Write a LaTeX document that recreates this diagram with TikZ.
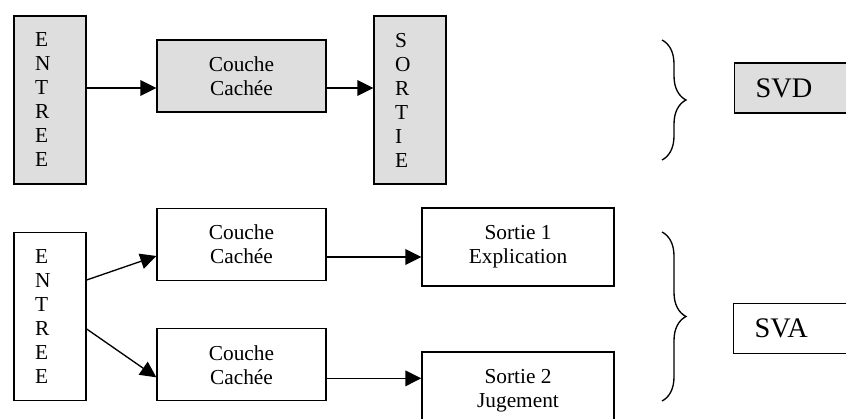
\documentclass[tikz,border=0pt]{standalone}
\usepackage{fontspec}
\setmainfont{Liberation Serif}
\usetikzlibrary{positioning,arrows.meta,decorations.pathreplacing}
\definecolor{grisclair}{gray}{0.87}
\tikzset{
>={Triangle[length=9.6pt,width=9.4pt]},
every node/.style={font=\fontsize{12.8pt}{14.4pt}\selectfont},
}

\begin{document}
\begin{tikzpicture}
        [x=0.6pt, y=-0.6pt,
        colonne/.style={draw, line width=0.8pt, text width=18pt, inner xsep=12.6pt, minimum height=100.8pt, align=left},
        couche/.style={draw, line width=0.8pt, minimum width=101.4pt, minimum height=43.2pt, align=center},
        sortie/.style={couche, minimum width=115.2pt, minimum height=46.8pt},
        resume/.style={draw, line width=0.8pt, anchor=west, text width=56.4pt, inner xsep=12.6pt, minimum height=30pt, align=left, font=\fontsize{17pt}{20pt}\selectfont},
        grise/.style={fill=grisclair},
        fleche/.style={->, line width=0.8pt},
        accolade/.style={decorate, decoration={brace, amplitude=14.4pt}, line width=0.8pt}
        ]
        \useasboundingbox (0,0) rectangle (846,419);
        \clip (0,0) rectangle (846,419);

        % SVD
        \node [colonne, grise] (entA) at (50,100) {E\\N\\T\\R\\E\\E};
        \node [couche, grise] (cachA) at (241.5,76) {Couche\\Cachée};
        \node [colonne, grise] (sortA) at (410,100) {S\\O\\R\\T\\I\\E};
        \node [resume, grise] (svd) at (734,88) {SVD};

        % SVA
        \node [colonne] (entB) at (50,316.5) {E\\N\\T\\R\\E\\E};
        \node [couche] (cachB) at (241.5,244.5) {Couche\\Cachée};
        \node [couche] (cachC) [below=28.2pt of cachB] {Couche\\Cachée};
        \node [sortie] (sortB) at (518,247) {Sortie 1\\Explication};
        \node [sortie] (sortC) at (518,391) {Sortie 2\\Jugement};
        \node [resume] (sva) at (733,328.5) {SVA};

        \coordinate (hautA) at (662,40);
        \coordinate (basA) at (662,160);
        \coordinate (hautB) at (662,232);
        \coordinate (basB) at (662,401);

        \draw[fleche] ([yshift=7.2pt]entA.east) -- ([yshift=7.2pt]entA.east -| cachA.west);
        \draw[fleche] ([yshift=-7.2pt]cachA.east) -- ([yshift=-7.2pt]cachA.east -| sortA.west);
        \draw[fleche] ([yshift=21.9pt]entB.east) -- ([yshift=-6.9pt]cachB.west);
        \draw[fleche] ([yshift=-7.5pt]entB.east) -- ([yshift=-7.5pt]cachC.west);
        \draw[fleche] ([yshift=-7.5pt]cachB.east) -- ([yshift=-7.5pt]cachB.east -| sortB.west);
        \draw[fleche] ([yshift=-8.1pt]cachC.east) -- ([yshift=-8.1pt]cachC.east -| sortC.west);

        \draw[accolade] (hautA) -- (basA);
        \draw[accolade] (hautB) -- (basB);
\end{tikzpicture}
\end{document}
